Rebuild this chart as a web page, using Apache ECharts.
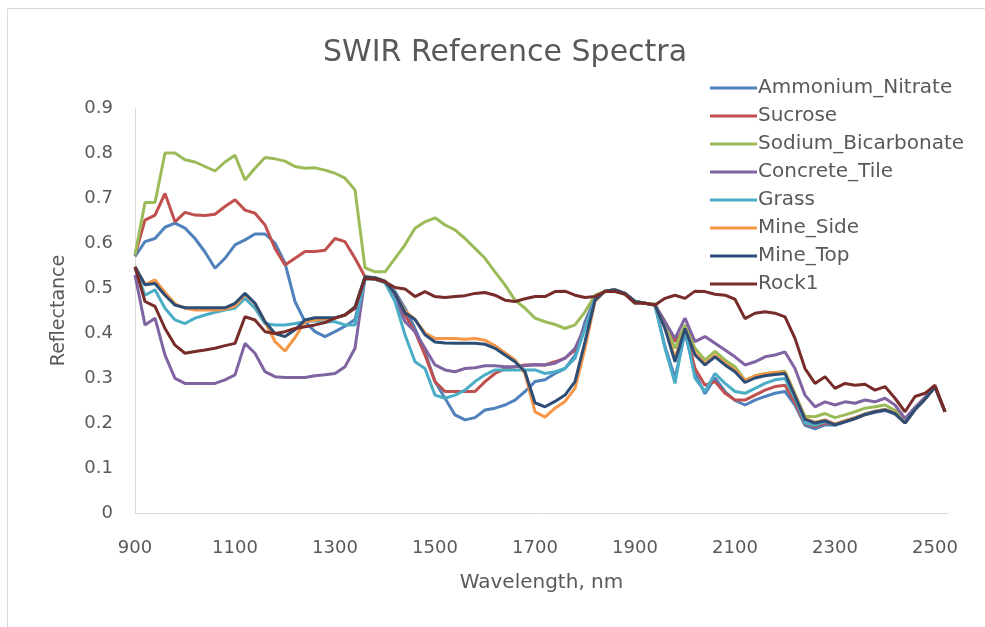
<!DOCTYPE html>
<html>
<head>
<meta charset="utf-8">
<script src="https://cdn.jsdelivr.net/npm/echarts@6/dist/echarts.min.js"></script>
<style>
  html, body { margin: 0; padding: 0; background: #fff; }
  #main { width: 985px; height: 627px; }
</style>
</head>
<body>
<div id="main"></div>
<script>
// wavelength grid, nm
const wavelength = [
  900, 920, 940, 960, 980, 1000, 1020, 1040, 1060, 1080,
  1100, 1120, 1140, 1160, 1180, 1200, 1220, 1240, 1260, 1280,
  1300, 1320, 1340, 1360, 1380, 1400, 1420, 1440, 1460, 1480,
  1500, 1520, 1540, 1560, 1580, 1600, 1620, 1640, 1660, 1680,
  1700, 1720, 1740, 1760, 1780, 1800, 1820, 1840, 1860, 1880,
  1900, 1920, 1940, 1960, 1980, 2000, 2020, 2040, 2060, 2080,
  2100, 2120, 2140, 2160, 2180, 2200, 2220, 2240, 2260, 2280,
  2300, 2320, 2340, 2360, 2380, 2400, 2420, 2440, 2460, 2480,
  2500, 2520
]

const ammoniumNitrate = [
  0.570, 0.603, 0.610, 0.635, 0.644, 0.633, 0.610, 0.580, 0.544, 0.566,
  0.596, 0.607, 0.620, 0.620, 0.600, 0.555, 0.470, 0.425, 0.403, 0.392,
  0.403, 0.415, 0.430, 0.522, 0.520, 0.513, 0.492, 0.455, 0.410, 0.358,
  0.292, 0.255, 0.218, 0.207, 0.212, 0.229, 0.233, 0.240, 0.251, 0.270,
  0.292, 0.296, 0.310, 0.321, 0.350, 0.425, 0.477, 0.493, 0.496, 0.488,
  0.470, 0.466, 0.462, 0.370, 0.300, 0.400, 0.310, 0.265, 0.300, 0.270,
  0.250, 0.240, 0.251, 0.259, 0.266, 0.270, 0.240, 0.195, 0.187, 0.196,
  0.195, 0.202, 0.210, 0.218, 0.224, 0.228, 0.220, 0.200, 0.230, 0.253,
  0.280, 0.225
]

const sucrose = [
  0.573, 0.651, 0.662, 0.710, 0.647, 0.668, 0.662, 0.661, 0.664, 0.681,
  0.696, 0.673, 0.666, 0.640, 0.588, 0.551, 0.566, 0.581, 0.581, 0.584,
  0.610, 0.603, 0.566, 0.525, 0.520, 0.513, 0.484, 0.440, 0.403, 0.351,
  0.292, 0.270, 0.270, 0.270, 0.270, 0.292, 0.310, 0.321, 0.325, 0.329,
  0.329, 0.329, 0.336, 0.344, 0.362, 0.414, 0.477, 0.493, 0.496, 0.488,
  0.470, 0.466, 0.462, 0.425, 0.381, 0.410, 0.321, 0.284, 0.292, 0.266,
  0.251, 0.251, 0.262, 0.273, 0.281, 0.284, 0.245, 0.198, 0.192, 0.200,
  0.197, 0.203, 0.210, 0.219, 0.225, 0.229, 0.221, 0.200, 0.230, 0.253,
  0.280, 0.225
]

const sodiumBicarbonate = [
  0.573, 0.690, 0.690, 0.800, 0.800, 0.785, 0.780, 0.770, 0.760, 0.780,
  0.795, 0.740, 0.766, 0.790, 0.787, 0.782, 0.770, 0.766, 0.767, 0.762,
  0.755, 0.744, 0.718, 0.545, 0.536, 0.536, 0.566, 0.596, 0.633, 0.647,
  0.656, 0.640, 0.629, 0.610, 0.588, 0.566, 0.536, 0.507, 0.473, 0.455,
  0.433, 0.425, 0.419, 0.410, 0.418, 0.447, 0.484, 0.493, 0.496, 0.488,
  0.470, 0.466, 0.465, 0.418, 0.366, 0.418, 0.366, 0.340, 0.359, 0.340,
  0.325, 0.295, 0.305, 0.310, 0.312, 0.315, 0.265, 0.215, 0.214, 0.221,
  0.212, 0.218, 0.225, 0.233, 0.236, 0.240, 0.228, 0.205, 0.233, 0.255,
  0.280, 0.225
]

const concreteTile = [
  0.529, 0.418, 0.433, 0.351, 0.299, 0.288, 0.288, 0.288, 0.288, 0.296,
  0.307, 0.377, 0.355, 0.314, 0.303, 0.301, 0.301, 0.301, 0.305, 0.307,
  0.310, 0.325, 0.366, 0.522, 0.520, 0.512, 0.477, 0.425, 0.403, 0.366,
  0.329, 0.318, 0.314, 0.321, 0.323, 0.327, 0.327, 0.325, 0.325, 0.327,
  0.330, 0.329, 0.333, 0.344, 0.366, 0.414, 0.477, 0.493, 0.496, 0.488,
  0.470, 0.466, 0.462, 0.425, 0.388, 0.433, 0.381, 0.392, 0.377, 0.362,
  0.347, 0.329, 0.336, 0.347, 0.351, 0.358, 0.321, 0.262, 0.236, 0.247,
  0.240, 0.247, 0.244, 0.251, 0.247, 0.255, 0.240, 0.210, 0.235, 0.257,
  0.281, 0.225
]

const grass = [
  0.544, 0.484, 0.496, 0.455, 0.429, 0.421, 0.433, 0.440, 0.446, 0.451,
  0.455, 0.477, 0.455, 0.421, 0.418, 0.418, 0.421, 0.425, 0.427, 0.425,
  0.425, 0.418, 0.418, 0.520, 0.520, 0.512, 0.470, 0.396, 0.336, 0.321,
  0.262, 0.255, 0.262, 0.273, 0.292, 0.307, 0.318, 0.318, 0.318, 0.318,
  0.318, 0.310, 0.314, 0.321, 0.344, 0.410, 0.477, 0.493, 0.496, 0.488,
  0.470, 0.466, 0.462, 0.366, 0.288, 0.410, 0.299, 0.270, 0.310, 0.288,
  0.270, 0.266, 0.277, 0.288, 0.296, 0.299, 0.255, 0.200, 0.195, 0.203,
  0.197, 0.205, 0.212, 0.220, 0.226, 0.230, 0.222, 0.200, 0.230, 0.253,
  0.280, 0.225
]

const mineSide = [
  0.547, 0.507, 0.518, 0.490, 0.465, 0.455, 0.451, 0.451, 0.451, 0.453,
  0.460, 0.486, 0.465, 0.425, 0.381, 0.360, 0.390, 0.425, 0.429, 0.431,
  0.433, 0.440, 0.458, 0.525, 0.523, 0.515, 0.488, 0.450, 0.430, 0.400,
  0.388, 0.388, 0.388, 0.386, 0.388, 0.384, 0.372, 0.356, 0.340, 0.310,
  0.225, 0.213, 0.233, 0.248, 0.277, 0.366, 0.470, 0.493, 0.496, 0.488,
  0.470, 0.466, 0.462, 0.410, 0.345, 0.410, 0.355, 0.332, 0.350, 0.333,
  0.318, 0.295, 0.305, 0.309, 0.312, 0.313, 0.262, 0.210, 0.202, 0.207,
  0.198, 0.205, 0.212, 0.220, 0.226, 0.230, 0.222, 0.200, 0.230, 0.253,
  0.280, 0.225
]

const mineTop = [
  0.547, 0.507, 0.510, 0.484, 0.462, 0.456, 0.456, 0.456, 0.456, 0.456,
  0.466, 0.488, 0.466, 0.425, 0.399, 0.392, 0.407, 0.429, 0.434, 0.434,
  0.434, 0.440, 0.458, 0.525, 0.523, 0.515, 0.488, 0.445, 0.430, 0.396,
  0.380, 0.378, 0.377, 0.377, 0.377, 0.375, 0.366, 0.351, 0.336, 0.314,
  0.245, 0.236, 0.248, 0.262, 0.292, 0.381, 0.473, 0.493, 0.496, 0.488,
  0.470, 0.466, 0.462, 0.410, 0.336, 0.410, 0.351, 0.329, 0.347, 0.329,
  0.314, 0.290, 0.300, 0.305, 0.308, 0.310, 0.260, 0.208, 0.200, 0.205,
  0.196, 0.203, 0.210, 0.219, 0.225, 0.229, 0.221, 0.200, 0.230, 0.253,
  0.280, 0.225
]

const rock1 = [
  0.547, 0.470, 0.459, 0.410, 0.373, 0.355, 0.359, 0.362, 0.366, 0.372,
  0.377, 0.436, 0.429, 0.403, 0.399, 0.403, 0.410, 0.414, 0.418, 0.423,
  0.433, 0.440, 0.455, 0.521, 0.520, 0.514, 0.501, 0.498, 0.481, 0.492,
  0.481, 0.479, 0.481, 0.483, 0.488, 0.490, 0.484, 0.473, 0.470, 0.476,
  0.481, 0.481, 0.492, 0.493, 0.484, 0.479, 0.481, 0.492, 0.492, 0.486,
  0.466, 0.466, 0.462, 0.477, 0.484, 0.477, 0.493, 0.492, 0.486, 0.484,
  0.475, 0.432, 0.444, 0.447, 0.444, 0.436, 0.388, 0.321, 0.288, 0.303,
  0.277, 0.288, 0.284, 0.286, 0.273, 0.281, 0.255, 0.225, 0.259, 0.266,
  0.284, 0.225
]

const seriesNames = ['Ammonium_Nitrate', 'Sucrose', 'Sodium_Bicarbonate', 'Concrete_Tile', 'Grass', 'Mine_Side', 'Mine_Top', 'Rock1']
const seriesValues = [ammoniumNitrate, sucrose, sodiumBicarbonate, concreteTile, grass, mineSide, mineTop, rock1]
const colors = ['#4F81BD', '#C0504D', '#9BBB59', '#8064A2', '#4BACC6', '#F79646', '#2C4D75', '#772C2A']

const font = '"DejaVu Sans", sans-serif'
const mychart = echarts.init(document.getElementById('main'))

mychart.setOption({
  animation: false,
  color: colors,
  title: {
    text: 'SWIR Reference Spectra',
    left: 318,
    top: 33,
    textStyle: { fontFamily: font, fontSize: 30, fontWeight: 'normal', color: '#595959' }
  },
  legend: {
    orient: 'vertical',
    left: 705,
    top: 73,
    icon: 'rect',
    itemWidth: 47,
    itemHeight: 3,
    itemGap: 8,
    textStyle: { fontFamily: font, fontSize: 20, lineHeight: 20, color: '#595959', padding: [0, 0, 0, -4] }
  },
  grid: { left: 135, right: 37, top: 108, bottom: 114 },
  xAxis: {
    type: 'value',
    min: 900,
    max: 2526,
    interval: 200,
    name: 'Wavelength, nm',
    nameLocation: 'middle',
    nameGap: 60,
    nameTextStyle: { fontFamily: font, fontSize: 20, color: '#595959' },
    axisLine: { lineStyle: { color: '#d9d9d9', width: 1 } },
    axisTick: { show: false },
    splitLine: { show: false },
    axisLabel: {
      margin: 26,
      fontFamily: font,
      fontSize: 18,
      color: '#595959',
      showMaxLabel: false,
      formatter: (v) => String(v)
    }
  },
  yAxis: {
    type: 'value',
    min: 0,
    max: 0.9,
    interval: 0.1,
    name: 'Reflectance',
    nameLocation: 'middle',
    nameGap: 66,
    nameTextStyle: { fontFamily: font, fontSize: 19, color: '#595959' },
    axisLine: { show: true, lineStyle: { color: '#d9d9d9', width: 1 } },
    axisTick: { show: false },
    splitLine: { show: false },
    axisLabel: { margin: 22, fontFamily: font, fontSize: 18, color: '#595959' }
  },
  graphic: [{
    type: 'rect',
    shape: { x: 7.5, y: 8.5, width: 985, height: 627 },
    style: { fill: 'none', stroke: '#d9d9d9', lineWidth: 1 },
    silent: true
  }],
  series: seriesNames.map((name, i) => ({
    name: name,
    type: 'line',
    showSymbol: false,
    symbol: 'none',
    lineStyle: { width: 3 },
    data: wavelength.map((w, j) => [w, seriesValues[i][j]])
  }))
})
</script>
</body>
</html>
